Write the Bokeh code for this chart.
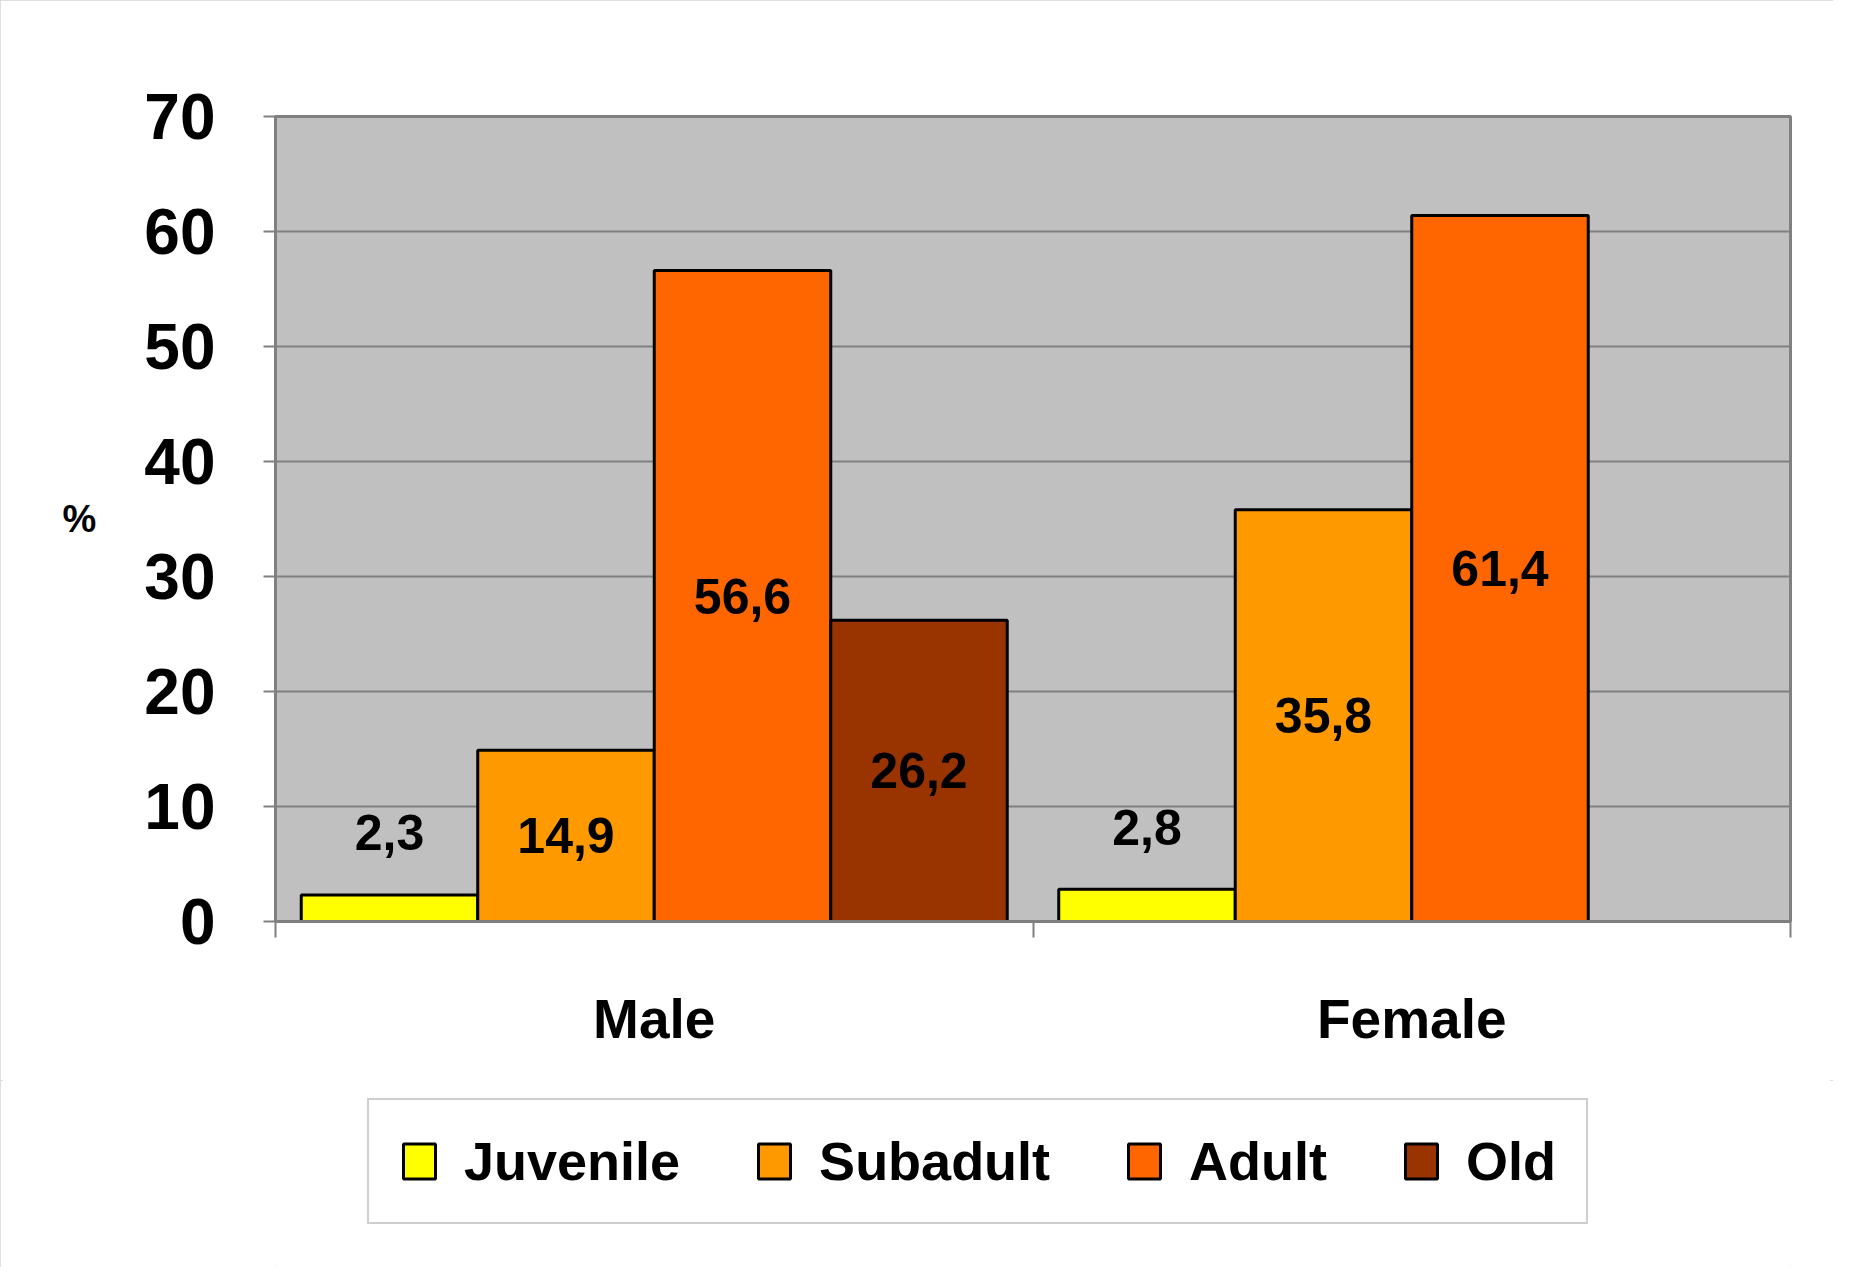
from bokeh.plotting import figure
from bokeh.layouts import column
from bokeh.models import FixedTicker, Legend, LegendItem, Range1d
from bokeh.embed import file_html
from bokeh.resources import INLINE
from bokeh.core.properties import value

# ---- data ----
groups = ["Male", "Female"]
series = ["Juvenile", "Subadult", "Adult", "Old"]
juvenile = [2.3, 2.8]
subadult = [14.9, 35.8]
adult = [56.6, 61.4]
old = [26.2, None]
colors = ["#FFFF00", "#FF9900", "#FF6600", "#993300"]
y_ticks = [0, 10, 20, 30, 40, 50, 60, 70]
y_tick_labels = {t: str(t) for t in y_ticks}
y_title = "%"

FONT = "Liberation Sans"
BAR_W = 0.233
W = 1833
H_MAIN = 1080
H_LEG = 187

p = figure(width=W, height=H_MAIN, output_backend="svg", toolbar_location=None,
           x_range=Range1d(0, 2), y_range=Range1d(0, 70),
           min_border_left=275, min_border_right=43,
           min_border_top=116, min_border_bottom=159)
p.title.visible = False
p.background_fill_color = "#C0C0C0"
p.border_fill_color = "white"
p.outline_line_color = "#808080"
p.outline_line_width = 3

all_vals = [juvenile, subadult, adult, old]
for j, (name, vals, col) in enumerate(zip(series, all_vals, colors)):
    xs, tops = [], []
    for i, v in enumerate(vals):
        if v is None:
            continue
        xs.append(i + 0.5 + (j - 1.5) * BAR_W)
        tops.append(v)
    p.vbar(x=xs, top=tops, width=BAR_W, bottom=0, fill_color=col,
           line_color="black", line_width=3)
    ly = [v / 2 if v >= 10 else v + 5.4 for v in tops]
    lt = [("%.1f" % v).replace(".", ",") for v in tops]
    p.text(x=xs, y=ly, text=lt, text_font=value(FONT), text_font_style="bold",
           text_font_size="50px", text_align="center", text_baseline="middle",
           text_color="black")

# y axis
p.yaxis.ticker = FixedTicker(ticks=y_ticks)
p.yaxis.major_label_overrides = y_tick_labels
p.yaxis.axis_line_color = "#808080"
p.yaxis.axis_line_width = 3
p.yaxis.major_tick_line_color = "#808080"
p.yaxis.major_tick_line_width = 2
p.yaxis.major_tick_out = 12
p.yaxis.major_tick_in = 0
p.yaxis.minor_tick_out = 0
p.yaxis.minor_tick_in = 0
p.yaxis.major_label_text_font = FONT
p.yaxis.major_label_text_font_style = "bold"
p.yaxis.major_label_text_font_size = "64px"
p.yaxis.major_label_text_color = "black"
p.yaxis.major_label_standoff = 48
p.yaxis.axis_label = y_title
p.yaxis.axis_label_text_font = FONT
p.yaxis.axis_label_text_font_style = "bold"
p.yaxis.axis_label_text_font_size = "38px"
p.yaxis.axis_label_text_color = "black"
p.yaxis.axis_label_standoff = 45
try:
    p.yaxis.axis_label_orientation = "horizontal"
except Exception:
    pass

# x axis
p.xaxis.ticker = FixedTicker(ticks=[0.5, 1.5], minor_ticks=[0, 1, 2])
p.xaxis.major_label_overrides = {0.5: groups[0], 1.5: groups[1]}
p.xaxis.axis_line_color = "#808080"
p.xaxis.axis_line_width = 3
p.xaxis.major_tick_out = 0
p.xaxis.major_tick_in = 0
p.xaxis.minor_tick_out = 16
p.xaxis.minor_tick_in = 0
p.xaxis.minor_tick_line_color = "#808080"
p.xaxis.minor_tick_line_width = 2
p.xaxis.major_label_text_font = FONT
p.xaxis.major_label_text_font_style = "bold"
p.xaxis.major_label_text_font_size = "55px"
p.xaxis.major_label_text_color = "black"
p.xaxis.major_label_standoff = 50

# grid
p.xgrid.visible = False
p.ygrid.ticker = FixedTicker(ticks=y_ticks)
p.ygrid.grid_line_color = "#808080"
p.ygrid.grid_line_width = 2

# ---- legend strip ----
q = figure(width=W, height=H_LEG, output_backend="svg", toolbar_location=None,
           x_range=Range1d(0, 1), y_range=Range1d(0, 1),
           x_axis_location=None, y_axis_location=None,
           min_border=0, min_border_left=0, min_border_right=0,
           min_border_top=0, min_border_bottom=0)
q.title.visible = False
q.grid.visible = False
q.outline_line_color = None
q.background_fill_color = "white"
q.border_fill_color = "white"

items = []
for name, col in zip(series, colors):
    # tiny proxy mark hidden behind the opaque legend box
    r = q.vbar(x=[0.5], top=[0.55], bottom=[0.45], width=0.005, fill_color=col,
               line_color="black", line_width=3)
    items.append(LegendItem(label=name, renderers=[r]))

legend = Legend(items=items, orientation="horizontal", location=(92, 43))
legend.label_text_font = FONT
legend.label_text_font_style = "bold"
legend.label_text_font_size = "54px"
legend.label_text_color = "black"
legend.glyph_width = 40
legend.glyph_height = 44
legend.label_standoff = 25
legend.spacing = 74
legend.padding = 30
legend.margin = 0
legend.border_line_color = "#a0a0a0"
legend.border_line_width = 2
legend.background_fill_color = "white"
legend.background_fill_alpha = 1
q.add_layout(legend)

layout = column(p, q, spacing=0)
layout.styles = {"outline": "3px solid #d4d4d4", "outline-offset": "-3px"}

open("out.html", "w").write(file_html(layout, INLINE))
